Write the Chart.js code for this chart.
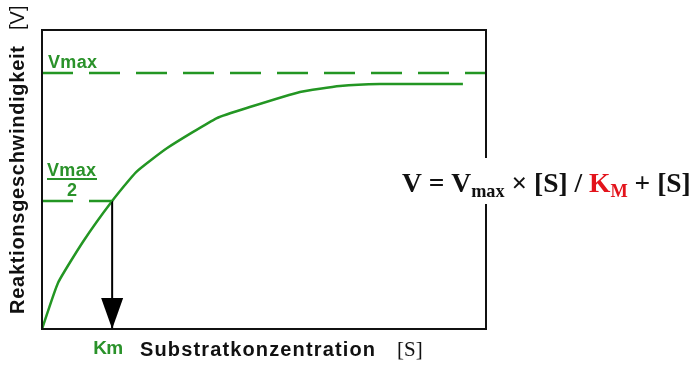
<!DOCTYPE html>
<html lang="de">
<head>
<meta charset="UTF-8">
<title>Michaelis-Menten-Kinetik</title>
<script src="https://cdn.jsdelivr.net/npm/chart.js"></script>
<style>
  html, body { margin: 0; padding: 0; background: #fff; }
  canvas { display: block; }
</style>
</head>
<body>
<canvas id="mm" width="692" height="371"></canvas>
<script>
// Werte
const substrat = [0, 3.6, 9.2, 15.8, 21.2, 28.2, 39.4, 46.8, 58.1, 67.1, 76.1, 94.8];
const geschwindigkeit = [0, 18, 34, 50, 61.3, 70.7, 82.4, 86.7, 92.6, 94.9, 95.7, 95.7];
const vmax = 100;
const km = 15.8;
const xBereich = [0, 100];
const yBereich = [0, 116.8];

const gruen = '#239623';
const gruenText = '#2a922a';
const dunkel = '#111';
const rot = '#e3141c';

// Text mit Sperrung auf eine Breite bringen
function sperrText(ctx, text, x, y, breite) {
  ctx.letterSpacing = '0px';
  const w = ctx.measureText(text).width;
  const sp = (breite - w) / Math.max(1, text.length - 1);
  ctx.letterSpacing = sp.toFixed(2) + 'px';
  ctx.fillText(text, x, y);
  ctx.letterSpacing = '0px';
}

const beschriftung = {
  id: 'beschriftung',
  afterDatasetsDraw(chart) {
    const { ctx, chartArea: a, scales: { x, y } } = chart;
    ctx.save();

    // Rahmen
    ctx.strokeStyle = dunkel;
    ctx.lineWidth = 2;
    ctx.strokeRect(a.left, a.top, a.right - a.left, a.bottom - a.top);

    // Pfeilspitze bei Km
    const kx = x.getPixelForValue(km);
    const by = y.getPixelForValue(0);
    ctx.fillStyle = '#000';
    ctx.beginPath();
    ctx.moveTo(kx - 11, by - 31);
    ctx.lineTo(kx + 11, by - 31);
    ctx.lineTo(kx, by);
    ctx.closePath();
    ctx.fill();

    // Vmax-Beschriftungen
    ctx.fillStyle = gruenText;
    ctx.textAlign = 'left';
    ctx.textBaseline = 'alphabetic';
    ctx.font = 'bold 18px "Liberation Sans", Arial, sans-serif';
    const vy = y.getPixelForValue(vmax);
    sperrText(ctx, 'Vmax', a.left + 6, vy - 5, 49);

    const hy = y.getPixelForValue(vmax / 2);
    sperrText(ctx, 'Vmax', a.left + 5, hy - 25, 49);
    ctx.fillRect(a.left + 5, hy - 23, 50, 2);
    ctx.textAlign = 'center';
    ctx.fillText('2', a.left + 30, hy - 5);

    // Km
    ctx.font = 'bold 19px "Liberation Sans", Arial, sans-serif';
    ctx.textAlign = 'left';
    sperrText(ctx, 'Km', kx - 19, a.bottom + 25, 30);

    // Achsentitel x
    ctx.fillStyle = dunkel;
    ctx.font = 'bold 20px "Liberation Sans", Arial, sans-serif';
    sperrText(ctx, 'Substratkonzentration', 140, a.bottom + 27, 235);
    ctx.font = '21px "Liberation Serif", "Times New Roman", serif';
    ctx.fillText('[S]', 397, a.bottom + 27);

    // Achsentitel y
    ctx.save();
    ctx.translate(24, 314);
    ctx.rotate(-Math.PI / 2);
    ctx.font = 'bold 20px "Liberation Sans", Arial, sans-serif';
    sperrText(ctx, 'Reaktionsgeschwindigkeit', 0, 0, 268);
    ctx.font = '20px "Liberation Sans", Arial, sans-serif';
    ctx.fillText('[V]', 284, 0);
    ctx.restore();

    // Formel
    const teile = [
      { t: 'V = V', c: dunkel },
      { t: 'max', c: dunkel, sub: true },
      { t: ' \u00d7 [S] / ', c: dunkel },
      { t: 'K', c: rot },
      { t: 'M', c: rot, sub: true },
      { t: ' + [S]', c: dunkel }
    ];
    const font = (s) => 'bold ' + s.toFixed(1) + 'px "Liberation Serif", "Times New Roman", serif';
    let gross = 30, klein = 20, summe = 0;
    teile.forEach(p => { ctx.font = font(p.sub ? klein : gross); summe += ctx.measureText(p.t).width; });
    const f = 289 / summe;
    gross *= f; klein *= f;
    const fx = 402, fy = 192;
    ctx.fillStyle = '#fff';
    ctx.fillRect(fx - 8, 158, chart.width - fx + 8, 46);
    let cx = fx;
    ctx.textAlign = 'left';
    teile.forEach(p => {
      ctx.font = font(p.sub ? klein : gross);
      ctx.fillStyle = p.c;
      ctx.fillText(p.t, cx, p.sub ? fy + 5 : fy);
      cx += ctx.measureText(p.t).width;
    });

    ctx.restore();
  }
};

const punkte = substrat.map((s, i) => ({ x: s, y: geschwindigkeit[i] }));

new Chart(document.getElementById('mm'), {
  type: 'scatter',
  data: {
    datasets: [
      {
        label: 'Vmax',
        data: [{ x: xBereich[0], y: vmax }, { x: xBereich[1], y: vmax }],
        showLine: true, borderColor: gruen, borderWidth: 2.5,
        borderDash: [31, 16], pointRadius: 0, clip: false
      },
      {
        label: 'Vmax/2',
        data: [{ x: 0, y: vmax / 2 }, { x: km, y: vmax / 2 }],
        showLine: true, borderColor: gruen, borderWidth: 2.5,
        borderDash: [31, 16], pointRadius: 0, clip: false
      },
      {
        label: 'Km',
        data: [{ x: km, y: vmax / 2 }, { x: km, y: 0 }],
        showLine: true, borderColor: '#000', borderWidth: 2,
        pointRadius: 0, clip: false
      },
      {
        label: 'V',
        data: punkte,
        showLine: true, borderColor: gruen, borderWidth: 2.5,
        tension: 0.15, pointRadius: 0, clip: false
      }
    ]
  },
  options: {
    responsive: false,
    animation: false,
    layout: { padding: { left: 42, top: 30, right: 206, bottom: 42 } },
    plugins: { legend: { display: false }, tooltip: { enabled: false } },
    scales: {
      x: { type: 'linear', display: false, min: xBereich[0], max: xBereich[1] },
      y: { type: 'linear', display: false, min: yBereich[0], max: yBereich[1] }
    }
  },
  plugins: [beschriftung]
});
</script>
</body>
</html>
